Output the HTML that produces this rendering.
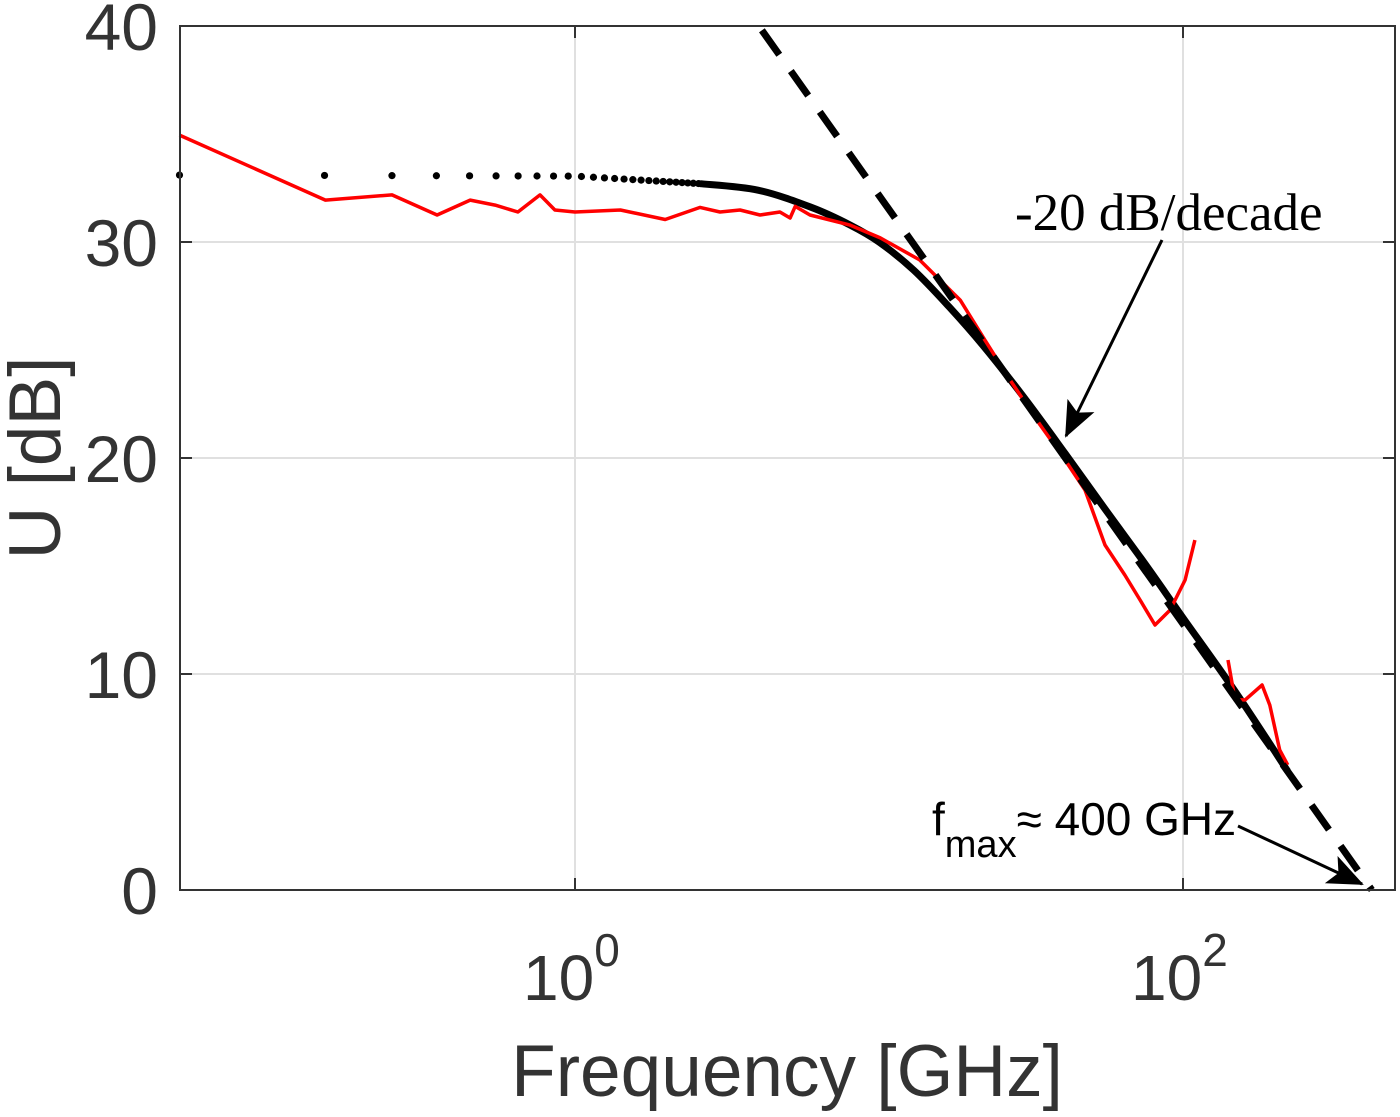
<!DOCTYPE html>
<html><head><meta charset="utf-8"><style>
body{margin:0;background:#fff}
svg{display:block}
</style></head><body>
<svg id="chart" width="1400" height="1117" xmlns="http://www.w3.org/2000/svg">
<defs>
<marker id="ah2" viewBox="0 0 36 30" refX="34" refY="15" markerWidth="36" markerHeight="30" markerUnits="userSpaceOnUse" orient="auto">
<path d="M0,0 L36,15 L0,30 L8,15 Z" fill="#000"/></marker>
</defs>
<g id="grid"></g>
<g id="series"></g>
<rect x="180" y="26" width="1215" height="864" fill="none" stroke="#333" stroke-width="2"/>
<g id="ticks"></g>
<text x="787" y="1096" font-family="Liberation Sans, sans-serif" font-size="73" fill="#333" text-anchor="middle">Frequency [GHz]</text>
<text transform="translate(60,458) rotate(-90)" font-family="Liberation Sans, sans-serif" font-size="73" fill="#333" text-anchor="middle">U [dB]</text>
<text x="1015" y="230" font-family="Liberation Serif, serif" font-size="53" fill="#000">-20 dB/decade</text>
<line x1="1162" y1="240" x2="1066" y2="436" stroke="#000" stroke-width="3" marker-end="url(#ah2)"/>
<text x="932" y="835" font-family="Liberation Sans, sans-serif" font-size="46" fill="#000">f<tspan font-size="38" dy="22">max</tspan><tspan dy="-22">≈ 400 GHz</tspan></text>
<line x1="1238" y1="826" x2="1362" y2="884" stroke="#000" stroke-width="3" marker-end="url(#ah2)"/>
</svg>
<script>
const yTicks=[0,10,20,30,40];
const xTickExp=[0,2];
const modelF=[0.05,1,2.58,4,6,8,10,13,17,22,30,41,55,75,100,150,221];
const modelU=[33.1,33.05,32.7,32.4,31.6,30.8,30.0,28.7,27.0,25.2,22.8,20.2,17.7,15.1,12.6,9.1,5.5];
const asymF=[4.12,418];
const asymU=[39.8,0];
const measF=[0.05,0.151,0.25,0.352,0.452,0.546,0.649,0.767,0.859,1,1.41,1.98,2.58,3.0,3.49,4.06,4.72,5.1,5.3,5.93,8.0,10.1,13.6,18.5,22.3,27.0,33.9,40.9,47.6,55.4,64.4,72.2,80.9,90.6,101.6,109.4];
const measU=[34.95,31.94,32.18,31.25,31.94,31.71,31.39,32.18,31.48,31.39,31.48,31.04,31.6,31.39,31.48,31.25,31.39,31.11,31.65,31.25,30.79,30.19,29.17,27.31,25.46,23.61,21.53,19.91,18.52,15.97,14.58,13.43,12.27,12.96,14.35,16.2];
const meas2F=[140.6,148.3,160,182,193,208,221];
const meas2U=[10.65,8.8,8.8,9.49,8.56,6.48,5.79];
const L=180,R=1395,T=26,B=890;
const px=f=>575+(Math.log10(f))*304;
const py=u=>B-u*(B-T)/40;
const NS='http://www.w3.org/2000/svg';
function mk(tag,attrs,parent){const e=document.createElementNS(NS,tag);for(const k in attrs)e.setAttribute(k,attrs[k]);parent.appendChild(e);return e;}
const grid=document.getElementById('grid'),ticks=document.getElementById('ticks'),ser=document.getElementById('series');
yTicks.forEach(v=>{const y=py(v);
 if(v>0&&v<40){const g=mk('line',{x1:L,x2:R,y1:y,y2:y,stroke:'#e0e0e0','stroke-width':2},grid);
 
 }
 const t1=mk('line',{x1:L,x2:L+12,y1:y,y2:y,stroke:'#333','stroke-width':2},ticks);
 
 
 mk('line',{x1:R-12,x2:R,y1:y,y2:y,stroke:'#333','stroke-width':2},ticks);
 const t=mk('text',{x:158,y:y+24,'font-family':'Liberation Sans, sans-serif','font-size':66,fill:'#333','text-anchor':'end'},ticks);
 t.textContent=v;
 
 
});
xTickExp.forEach(e=>{const x=px(Math.pow(10,e));
 const g=mk('line',{x1:x,x2:x,y1:T,y2:B,stroke:'#e0e0e0','stroke-width':2},grid);
 
 
 mk('line',{x1:x,x2:x,y1:B-12,y2:B,stroke:'#333','stroke-width':2},ticks);
 mk('line',{x1:x,x2:x,y1:T,y2:T+12,stroke:'#333','stroke-width':2},ticks);
 const t=mk('text',{x:x-52,y:1000,'font-family':'Liberation Sans, sans-serif','font-size':64,fill:'#333'},ticks);
 t.innerHTML='10<tspan font-size="46" dy="-34">'+e+'</tspan>';
 
 
});
function path(F,U){return F.map((f,i)=>(i?'L':'M')+px(f).toFixed(1)+','+py(U[i]).toFixed(1)).join('');}
function interp(f){const lf=Math.log10(f);for(let i=1;i<modelF.length;i++){const a=Math.log10(modelF[i-1]),b=Math.log10(modelF[i]);if(lf<=b){const t=(lf-a)/(b-a);return modelU[i-1]+t*(modelU[i]-modelU[i-1]);}}return modelU[modelU.length-1];}
function smooth(F,U){const pts=F.map((f,i)=>[px(f),py(U[i])]);let d='M'+pts[0][0]+','+pts[0][1];
 for(let i=0;i<pts.length-1;i++){const p0=pts[i-1]||pts[i],p1=pts[i],p2=pts[i+1],p3=pts[i+2]||p2;
 d+='C'+(p1[0]+(p2[0]-p0[0])/6)+','+(p1[1]+(p2[1]-p0[1])/6)+' '+(p2[0]-(p3[0]-p1[0])/6)+','+(p2[1]-(p3[1]-p1[1])/6)+' '+p2[0]+','+p2[1];}return d;}
for(let f=0.05;f<2.6;f+=0.1){const c=mk('circle',{cx:px(f),cy:py(interp(f)),r:3.6,fill:'#000'},ser);
 
 }
const mF=modelF.filter(f=>f>=2.58),mU=modelU.slice(modelU.length-mF.length);
const m=mk('path',{d:smooth(mF,mU),fill:'none',stroke:'#000','stroke-width':7},ser);


const r1=mk('path',{d:path(measF,measU),fill:'none',stroke:'#f00','stroke-width':3.5,'stroke-linejoin':'round'},ser);


const r2=mk('path',{d:path(meas2F,meas2U),fill:'none',stroke:'#f00','stroke-width':3.5,'stroke-linejoin':'round'},ser);


const a=mk('path',{d:path(asymF,asymU),fill:'none',stroke:'#000','stroke-width':7,'stroke-dasharray':'30,20'},ser);


</script>
</body></html>
